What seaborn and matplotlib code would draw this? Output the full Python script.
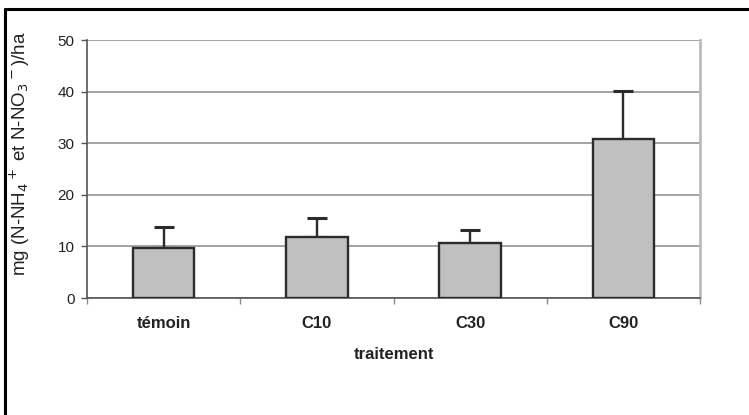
import numpy as np
import pandas as pd
import matplotlib
matplotlib.use("Agg")
import matplotlib.pyplot as plt
import seaborn as sns
from matplotlib.lines import Line2D

# valeurs
traitements = ["témoin", "C10", "C30", "C90"]
moyennes = [9.7, 11.8, 10.7, 30.8]
erreurs = [4.1, 3.7, 2.5, 9.4]
y_ticks = [0, 10, 20, 30, 40, 50]

sns.set_theme(style="white")
plt.rcParams["font.family"] = ["Liberation Sans", "DejaVu Sans"]
plt.rcParams["mathtext.fontset"] = "dejavusans"

df = pd.DataFrame({"traitement": traitements, "valeur": moyennes})

fig = plt.figure(figsize=(7.49, 4.15), dpi=100)
ax = fig.add_axes([0.1162, 0.2819, 0.8184, 0.6217])

sns.barplot(data=df, x="traitement", y="valeur", color="#c0c0c0",
            edgecolor="#2b2b2b", linewidth=1.7, width=0.4, saturation=1,
            zorder=3, ax=ax)

pos = np.arange(len(traitements))
ax.errorbar(pos, moyennes, yerr=[np.zeros(len(erreurs)), erreurs],
            fmt="none", ecolor="#2b2b2b", elinewidth=1.7, capsize=7,
            capthick=2.2, zorder=2)

ax.set_xlim(-0.5, len(traitements) - 0.5)
ax.set_ylim(0, 50)
ax.set_yticks(y_ticks)
ax.yaxis.grid(True, color="#8a8a8a", linewidth=1.1)
ax.set_axisbelow(True)

# petits traits entre les catégories
ax.set_xticks(np.arange(-0.5, len(traitements)), minor=True)
ax.tick_params(axis="x", which="major", length=0, pad=13)
ax.tick_params(axis="x", which="minor", length=4, color="#8a8a8a", width=1,
               direction="out", bottom=True)
ax.tick_params(axis="y", length=4, color="#555555", width=1, direction="out",
               left=True, pad=5)
for lab in ax.get_xticklabels():
    lab.set_fontweight("bold")
    lab.set_fontsize(12)
    lab.set_color("#222222")
for lab in ax.get_yticklabels():
    lab.set_fontsize(11)
    lab.set_color("#222222")

ax.spines["top"].set_visible(False)
ax.spines["left"].set_color("#555555")
ax.spines["bottom"].set_color("#555555")
ax.spines["right"].set_color("#bbbbbb")
ax.spines["right"].set_linewidth(2)
for s in ["left", "bottom"]:
    ax.spines[s].set_linewidth(1.2)

ax.set_xlabel("traitement", fontsize=12, fontweight="bold", color="#222222")
ax.xaxis.set_label_coords(0.5, -0.19)
ax.set_ylabel(r"mg (N-NH$_4$$^+$ et N-NO$_3$$^-$)/ha", fontsize=13.5,
              color="#222222")
ax.yaxis.set_label_coords(-0.09, 0.56)

# cadre noir (haut et gauche)
fig.add_artist(Line2D([5 / 749, 5 / 749], [0, 1 - 9 / 415], color="black",
                      linewidth=2.2, transform=fig.transFigure))
fig.add_artist(Line2D([5 / 749, 1], [1 - 9 / 415, 1 - 9 / 415], color="black",
                      linewidth=2.2, transform=fig.transFigure))

fig.savefig("out.png", dpi=100)
